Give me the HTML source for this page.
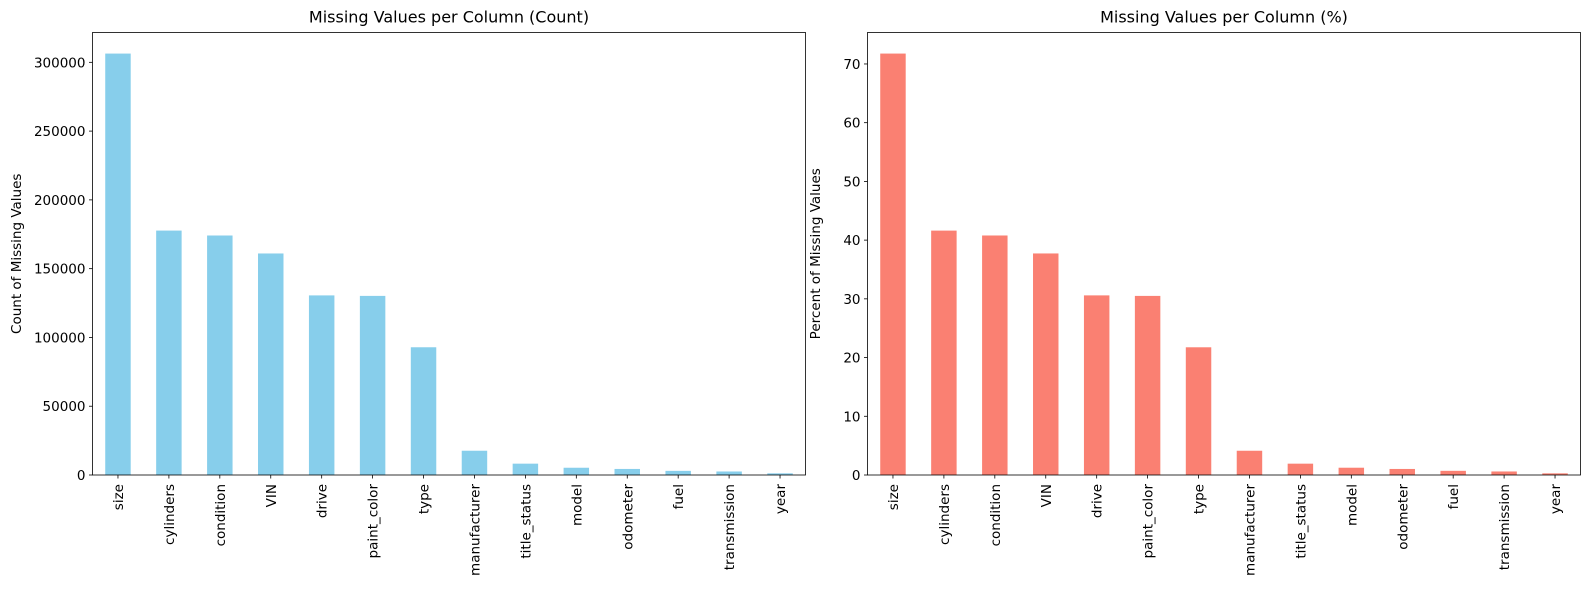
<!DOCTYPE html>
<html><head><meta charset="utf-8"><style>
body{margin:0;background:#fff}
svg{display:block;font-family:"DejaVu Sans","Liberation Sans",sans-serif}
</style></head><body>
<svg id="fig" width="1590" height="590" xmlns="http://www.w3.org/2000/svg"></svg>
<script>
const categories=["size","cylinders","condition","VIN","drive","paint_color","type","manufacturer","title_status","model","odometer","fuel","transmission","year"];
const countValues=[306361,177678,174104,161042,130567,130203,92858,17646,8242,5277,4400,3013,2556,1205];
const percentValues=[71.77,41.62,40.79,37.73,30.59,30.50,21.75,4.13,1.93,1.24,1.03,0.71,0.60,0.28];
const countTicks=[0,50000,100000,150000,200000,250000,300000];
const percentTicks=[0,10,20,30,40,50,60,70];

const NS="http://www.w3.org/2000/svg";
const svg=document.getElementById('fig');
function mk(tag,attrs,parent){const e=document.createElementNS(NS,tag);for(const k in attrs)e.setAttribute(k,attrs[k]);(parent||svg).appendChild(e);return e;}

function panel(x0,x1,y0,y1,vals,ticks,color,title,ylab,ylabX,prefix){
  const g=mk('g',{});
  
  
  const ymax=Math.max(...vals)*1.05;
  const ys=v=>y1-(v/ymax)*(y1-y0);
  const step=(x1-x0)/categories.length;
  const xs=i=>x0+(i+0.5)*step;
  vals.forEach((v,i)=>{
    const r=mk('rect',{x:xs(i)-step*0.25,y:ys(v),width:step*0.5,height:y1-ys(v),fill:color},g);
    
    
  });
  ticks.forEach(t=>{
    const y=ys(t);
    mk('line',{x1:x0-3.5,x2:x0,y1:y,y2:y,stroke:'#000','stroke-width':0.8},g);
    const tx=mk('text',{x:x0-7,y:y+5,'text-anchor':'end','font-size':13.5},g);
    tx.textContent=t;
    
    
  });
  categories.forEach((c,i)=>{
    const x=xs(i);
    mk('line',{x1:x,x2:x,y1:y1,y2:y1+3.5,stroke:'#000','stroke-width':0.8},g);
    const tx=mk('text',{x:0,y:0,'text-anchor':'end','font-size':13.5,transform:`translate(${x+5},${y1+9}) rotate(-90)`},g);
    tx.textContent=c;
    
    
  });
  const fr=mk('rect',{x:x0,y:y0,width:x1-x0,height:y1-y0,fill:'none',stroke:'#000','stroke-width':0.8},g);
  
  
  const tt=mk('text',{x:(x0+x1)/2,y:y0-10,'text-anchor':'middle','font-size':16},g);
  tt.textContent=title;
  
  
  const yl=mk('text',{x:0,y:0,'text-anchor':'middle','font-size':13.5,transform:`translate(${ylabX},${(y0+y1)/2}) rotate(-90)`},g);
  yl.textContent=ylab;
  
  
}
panel(92.5,805.5,32.5,475,countValues,countTicks,'#87ceeb','Missing Values per Column (Count)','Count of Missing Values',21,'count');
panel(867.5,1580.5,32.5,475,percentValues,percentTicks,'#fa8072','Missing Values per Column (%)','Percent of Missing Values',820,'percent');
</script>
</body></html>
